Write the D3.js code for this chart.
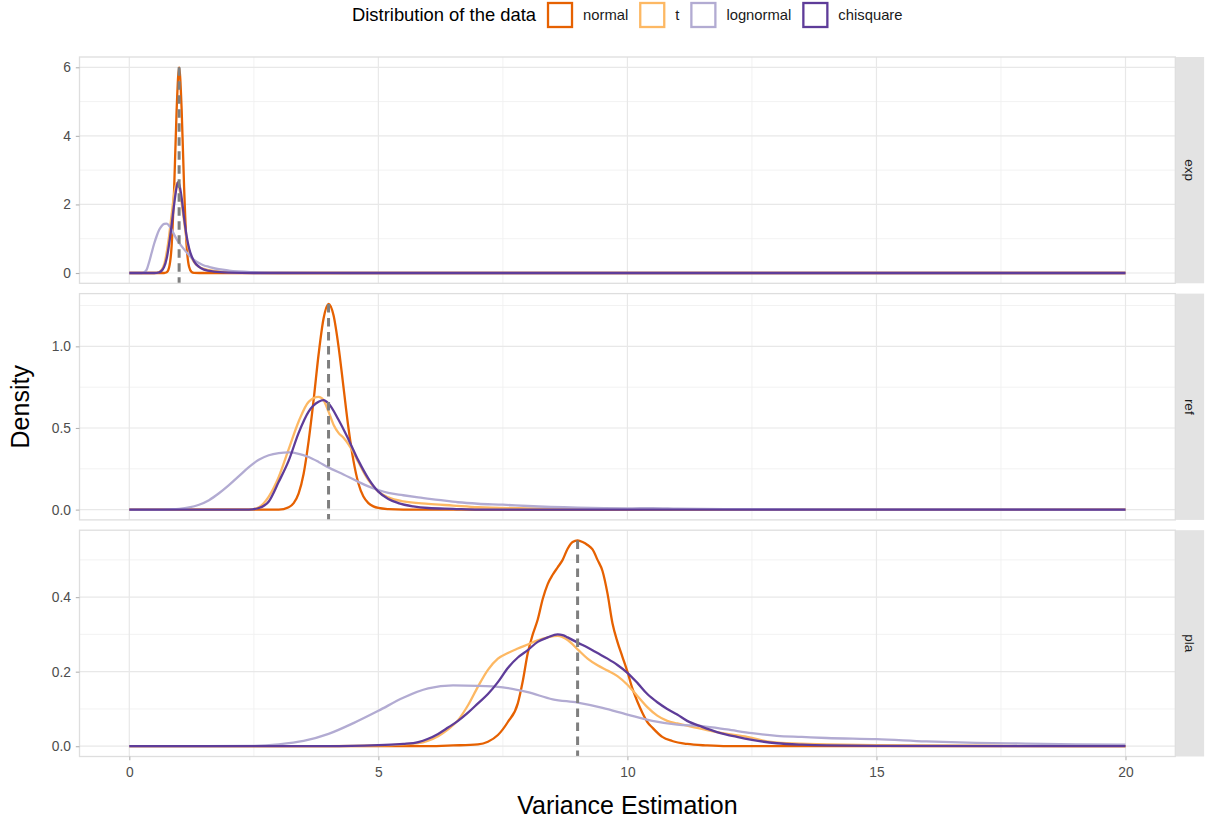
<!DOCTYPE html>
<html>
<head>
<meta charset="utf-8">
<script src="https://cdn.jsdelivr.net/npm/d3@7"></script>
<style>
  html, body { margin: 0; padding: 0; background: #ffffff; }
  svg { display: block; font-family: "Liberation Sans", Arial, Helvetica, sans-serif; }
</style>
</head>
<body>
<svg id="chart" width="1206" height="823"></svg>
<script>
// ---- data ---------------------------------------------------------------
const panels = ["exp", "ref", "pla"];
const trueVariance = [1, 4, 9];
const distributions = ["normal", "t", "lognormal", "chisquare"];
const distColors = ["#e66101", "#fdb863", "#b2abd2", "#5e3c99"];
const xTicks = [0, 5, 10, 15, 20];
const yTicksExp = [0, 2, 4, 6];
const yTicksRef = [0, 0.5, 1.0];
const yTicksPla = [0, 0.2, 0.4];
const yTickLabelsExp = ["0", "2", "4", "6"];
const yTickLabelsRef = ["0.0", "0.5", "1.0"];
const yTickLabelsPla = ["0.0", "0.2", "0.4"];

// density estimates, [variance estimate, density]
const expNormal = [[0,0],[0.7,0],[0.75,0.02],[0.8,0.17],[0.85,0.8],[0.9,2.45],[0.95,4.75],[1.0,6.0],[1.05,4.8],[1.1,2.5],[1.15,0.82],[1.2,0.18],[1.25,0.03],[1.3,0.004],[1.4,0],[20,0]];
const expT = [[0,0],[0.5,0],[0.6,0.03],[0.7,0.25],[0.75,0.6],[0.8,1.1],[0.85,1.7],[0.9,2.3],[0.95,2.62],[1.0,2.5],[1.05,2.05],[1.1,1.5],[1.15,1.0],[1.2,0.65],[1.3,0.32],[1.4,0.18],[1.5,0.12],[1.7,0.06],[2.0,0.02],[2.5,0.005],[3,0],[20,0]];
const expLognormal = [[0,0],[0.25,0],[0.3,0.02],[0.35,0.1],[0.4,0.33],[0.45,0.6],[0.5,0.86],[0.55,1.08],[0.6,1.26],[0.65,1.37],[0.7,1.43],[0.75,1.44],[0.8,1.38],[0.85,1.27],[0.9,1.12],[0.95,0.99],[1.0,0.88],[1.1,0.69],[1.2,0.52],[1.3,0.38],[1.4,0.29],[1.5,0.22],[1.6,0.18],[1.8,0.11],[2.0,0.07],[2.5,0.025],[3,0.01],[4,0.003],[5,0],[20,0]];
const expChisquare = [[0,0],[0.5,0],[0.6,0.02],[0.7,0.18],[0.75,0.42],[0.8,0.85],[0.85,1.4],[0.9,2.0],[0.95,2.5],[0.98,2.65],[1.0,2.6],[1.05,2.2],[1.1,1.6],[1.15,1.08],[1.2,0.72],[1.3,0.34],[1.4,0.18],[1.5,0.1],[1.7,0.04],[2.0,0.012],[2.5,0],[20,0]];

const refNormal = [[0,0],[3.0,0],[3.2,0.015],[3.3,0.04],[3.4,0.1],[3.5,0.22],[3.6,0.42],[3.7,0.67],[3.8,0.95],[3.9,1.17],[4.0,1.26],[4.1,1.19],[4.2,1.0],[4.3,0.75],[4.4,0.5],[4.5,0.3],[4.6,0.16],[4.7,0.08],[4.8,0.04],[4.9,0.02],[5.0,0.01],[5.2,0.003],[5.5,0],[20,0]];
const refT = [[0,0],[2.4,0],[2.6,0.015],[2.8,0.08],[3.0,0.2],[3.2,0.37],[3.4,0.54],[3.6,0.66],[3.8,0.69],[3.9,0.67],[4.0,0.6],[4.1,0.52],[4.2,0.47],[4.3,0.44],[4.4,0.4],[4.5,0.35],[4.6,0.29],[4.8,0.18],[5.0,0.11],[5.2,0.075],[5.5,0.05],[6,0.035],[6.5,0.025],[7,0.015],[8,0.008],[10,0.003],[12,0],[20,0]];
const refLognormal = [[0,0],[0.6,0],[0.8,0.002],[1.0,0.005],[1.2,0.013],[1.4,0.03],[1.6,0.058],[1.8,0.1],[2.0,0.15],[2.2,0.205],[2.4,0.26],[2.6,0.305],[2.8,0.333],[3.0,0.346],[3.2,0.35],[3.4,0.342],[3.6,0.322],[3.8,0.292],[4.0,0.258],[4.3,0.215],[4.6,0.17],[4.8,0.142],[5.0,0.12],[5.2,0.102],[5.5,0.088],[5.8,0.075],[6.2,0.06],[6.6,0.045],[7,0.036],[7.5,0.03],[8,0.022],[9,0.012],[10,0.008],[10.5,0.009],[11,0.006],[12,0.003],[14,0.001],[16,0.002],[18,0.001],[20,0]];
const refChisquare = [[0,0],[2.4,0],[2.6,0.01],[2.8,0.05],[3.0,0.17],[3.2,0.3],[3.4,0.47],[3.6,0.6],[3.8,0.66],[3.9,0.67],[4.0,0.65],[4.2,0.55],[4.4,0.43],[4.6,0.3],[4.8,0.19],[5.0,0.11],[5.2,0.065],[5.4,0.04],[5.7,0.02],[6,0.01],[6.5,0.005],[7,0],[20,0]];

const plaNormal = [[0,0],[6.0,0],[6.5,0.002],[7.0,0.005],[7.2,0.012],[7.4,0.03],[7.6,0.065],[7.8,0.115],[7.9,0.175],[8.0,0.25],[8.1,0.3],[8.2,0.34],[8.3,0.395],[8.4,0.435],[8.5,0.46],[8.6,0.48],[8.7,0.5],[8.8,0.53],[8.9,0.548],[9.0,0.552],[9.1,0.548],[9.2,0.54],[9.3,0.528],[9.4,0.5],[9.5,0.47],[9.6,0.41],[9.7,0.33],[9.8,0.28],[9.9,0.24],[10.0,0.2],[10.1,0.155],[10.2,0.12],[10.3,0.09],[10.4,0.065],[10.5,0.05],[10.7,0.025],[10.9,0.014],[11.2,0.006],[11.6,0.002],[12,0],[20,0]];
const plaT = [[0,0],[4,0],[5,0.002],[5.5,0.005],[5.8,0.008],[6.0,0.015],[6.2,0.027],[6.4,0.045],[6.6,0.07],[6.8,0.11],[7.0,0.16],[7.2,0.205],[7.4,0.235],[7.6,0.25],[7.8,0.262],[8.0,0.273],[8.2,0.284],[8.4,0.292],[8.6,0.296],[8.8,0.285],[9.0,0.26],[9.2,0.235],[9.4,0.217],[9.6,0.203],[9.8,0.188],[10.0,0.165],[10.2,0.135],[10.4,0.105],[10.6,0.082],[10.8,0.068],[11.0,0.061],[11.3,0.052],[11.6,0.043],[12.0,0.033],[12.4,0.025],[12.8,0.013],[13.2,0.008],[14,0.005],[15,0.003],[16,0.002],[18,0.001],[20,0]];
const plaLognormal = [[0,0],[1.5,0],[2.5,0.001],[3.0,0.005],[3.5,0.014],[4.0,0.033],[4.5,0.062],[5.0,0.095],[5.5,0.13],[6.0,0.155],[6.5,0.163],[7.0,0.162],[7.5,0.158],[8.0,0.145],[8.5,0.126],[9.0,0.117],[9.5,0.103],[10.0,0.085],[10.5,0.068],[11.0,0.058],[11.5,0.054],[12.0,0.045],[12.5,0.035],[13.0,0.028],[13.5,0.025],[14,0.022],[15,0.019],[16,0.013],[17,0.009],[18,0.007],[19,0.005],[20,0.004]];
const plaChisquare = [[0,0],[4.0,0],[5.0,0.003],[5.5,0.006],[5.8,0.011],[6.0,0.02],[6.2,0.033],[6.4,0.05],[6.6,0.068],[6.8,0.09],[7.0,0.115],[7.2,0.14],[7.4,0.172],[7.6,0.21],[7.8,0.238],[8.0,0.258],[8.2,0.28],[8.4,0.292],[8.6,0.3],[8.7,0.298],[8.8,0.292],[9.0,0.278],[9.2,0.265],[9.4,0.25],[9.6,0.235],[9.8,0.218],[10.0,0.197],[10.2,0.17],[10.4,0.14],[10.6,0.118],[10.8,0.1],[11.0,0.085],[11.2,0.068],[11.5,0.052],[11.8,0.038],[12.2,0.025],[12.5,0.017],[13,0.008],[13.5,0.004],[14,0.002],[15,0.001],[20,0]];

// ---- assembled per panel ------------------------------------------------
const panelSeries = [
  [expNormal, expT, expLognormal, expChisquare],
  [refNormal, refT, refLognormal, refChisquare],
  [plaNormal, plaT, plaLognormal, plaChisquare]
];
const panelYTicks = [yTicksExp, yTicksRef, yTicksPla];
const panelYLabels = [yTickLabelsExp, yTickLabelsRef, yTickLabelsPla];

// ---- layout -------------------------------------------------------------
const svg = d3.select("#chart");
const left = 79.5, right = 1175.3;
const panelTop0 = 57, panelH = 226.3, panelGap = 10.3;
const stripW = 28.2;
const FONT = '"Liberation Sans", Arial, Helvetica, sans-serif';

const x = d3.scaleLinear().domain([-1, 21]).range([left, right]);
const xMinor = [2.5, 7.5, 12.5, 17.5];

const line = (y) => d3.line()
  .x(d => x(d[0]))
  .y(d => y(d[1]))
  .curve(d3.curveMonotoneX);

panels.forEach((name, i) => {
  const top = panelTop0 + i * (panelH + panelGap);
  const bottom = top + panelH;
  const series = panelSeries[i];
  const M = d3.max(series.flat(), d => d[1]);
  const y = d3.scaleLinear().domain([-0.05 * M, 1.05 * M]).range([bottom, top]);

  const g = svg.append("g").attr("class", "panel-" + name);

  g.append("rect")
    .attr("x", left).attr("y", top)
    .attr("width", right - left).attr("height", panelH)
    .attr("fill", "#ffffff");

  // minor grid
  const ticks = panelYTicks[i];
  const step = ticks[1] - ticks[0];
  const yMinor = d3.range(ticks[0] + step / 2, y.domain()[1], step);
  g.selectAll(".ymin").data(yMinor).join("line")
    .attr("x1", left).attr("x2", right)
    .attr("y1", d => y(d)).attr("y2", d => y(d))
    .attr("stroke", "#f1f1f1").attr("stroke-width", 0.9);
  g.selectAll(".xmin").data(xMinor).join("line")
    .attr("x1", d => x(d)).attr("x2", d => x(d))
    .attr("y1", top).attr("y2", bottom)
    .attr("stroke", "#f1f1f1").attr("stroke-width", 0.9);

  // major grid
  g.selectAll(".ymaj").data(ticks).join("line")
    .attr("x1", left).attr("x2", right)
    .attr("y1", d => y(d)).attr("y2", d => y(d))
    .attr("stroke", "#e8e8e8").attr("stroke-width", 1.2);
  g.selectAll(".xmaj").data(xTicks).join("line")
    .attr("x1", d => x(d)).attr("x2", d => x(d))
    .attr("y1", top).attr("y2", bottom)
    .attr("stroke", "#e8e8e8").attr("stroke-width", 1.2);

  // density curves
  series.forEach((s, k) => {
    g.append("path")
      .datum(s)
      .attr("d", line(y))
      .attr("fill", "none")
      .attr("stroke", distColors[k])
      .attr("stroke-width", 2.3)
      .attr("stroke-linejoin", "round");
  });

  // true variance marker, from the normal peak down to the panel floor
  const peak = d3.max(series[0], d => d[1]);
  g.append("line")
    .attr("x1", x(trueVariance[i])).attr("x2", x(trueVariance[i]))
    .attr("y1", y(peak)).attr("y2", bottom)
    .attr("stroke", "#7f7f7f")
    .attr("stroke-width", 3)
    .attr("stroke-dasharray", "8.5,5.5");

  // panel border
  g.append("rect")
    .attr("x", left).attr("y", top)
    .attr("width", right - left).attr("height", panelH)
    .attr("fill", "none").attr("stroke", "#dedede").attr("stroke-width", 1.3);

  // strip
  g.append("rect")
    .attr("x", right + 0.6).attr("y", top)
    .attr("width", stripW).attr("height", panelH)
    .attr("fill", "#e3e3e3");
  g.append("text")
    .attr("transform", `translate(${right + 0.6 + stripW / 2},${top + panelH / 2}) rotate(90)`)
    .attr("text-anchor", "middle")
    .attr("dy", "0.35em")
    .attr("font-size", "13.5px")
    .attr("fill", "#1a1a1a")
    .text(name);

  // y axis
  const labels = panelYLabels[i];
  const ax = svg.append("g")
    .attr("transform", `translate(${left},0)`)
    .call(d3.axisLeft(y).tickValues(ticks).tickSize(3.7).tickPadding(4.8)
      .tickFormat((d, j) => labels[j]));
  ax.select(".domain").remove();
  ax.selectAll(".tick line").attr("stroke", "#b3b3b3").attr("stroke-width", 1.1);
  ax.selectAll(".tick text").attr("font-size", "13.8px").attr("fill", "#4d4d4d")
    .attr("font-family", FONT);

  if (i === panels.length - 1) {
    const xa = svg.append("g")
      .attr("transform", `translate(0,${bottom})`)
      .call(d3.axisBottom(x).tickValues(xTicks).tickSize(3.7).tickPadding(7.2)
        .tickFormat(d3.format("d")));
    xa.select(".domain").remove();
    xa.selectAll(".tick line").attr("stroke", "#b3b3b3").attr("stroke-width", 1.1);
    xa.selectAll(".tick text").attr("font-size", "13.8px").attr("fill", "#4d4d4d")
      .attr("font-family", FONT);
  }
});

// axis titles
const panelsMid = panelTop0 + (3 * panelH + 2 * panelGap) / 2;
svg.append("text")
  .attr("transform", `translate(29,${panelsMid}) rotate(-90)`)
  .attr("text-anchor", "middle")
  .attr("font-size", "25px")
  .attr("fill", "#000")
  .text("Density");
svg.append("text")
  .attr("x", (left + right) / 2).attr("y", 814)
  .attr("text-anchor", "middle")
  .attr("font-size", "25px")
  .attr("fill", "#000")
  .text("Variance Estimation");

// legend
const legend = svg.append("g").attr("class", "legend");
const title = legend.append("text")
  .attr("x", 352).attr("y", 21)
  .attr("font-size", "18.4px").attr("fill", "#000")
  .text("Distribution of the data");
let cursor = 352 + title.node().getComputedTextLength() + 11;
const keySize = 24;
distributions.forEach((d, k) => {
  legend.append("rect")
    .attr("x", cursor + 1).attr("y", 3)
    .attr("width", keySize).attr("height", keySize)
    .attr("fill", "#ffffff")
    .attr("stroke", distColors[k]).attr("stroke-width", 2.3);
  cursor += keySize + 2 + 10;
  const t = legend.append("text")
    .attr("x", cursor).attr("y", 20)
    .attr("font-size", "14.8px").attr("fill", "#1a1a1a")
    .text(d);
  cursor += t.node().getComputedTextLength() + 11;
});
</script>
</body>
</html>
